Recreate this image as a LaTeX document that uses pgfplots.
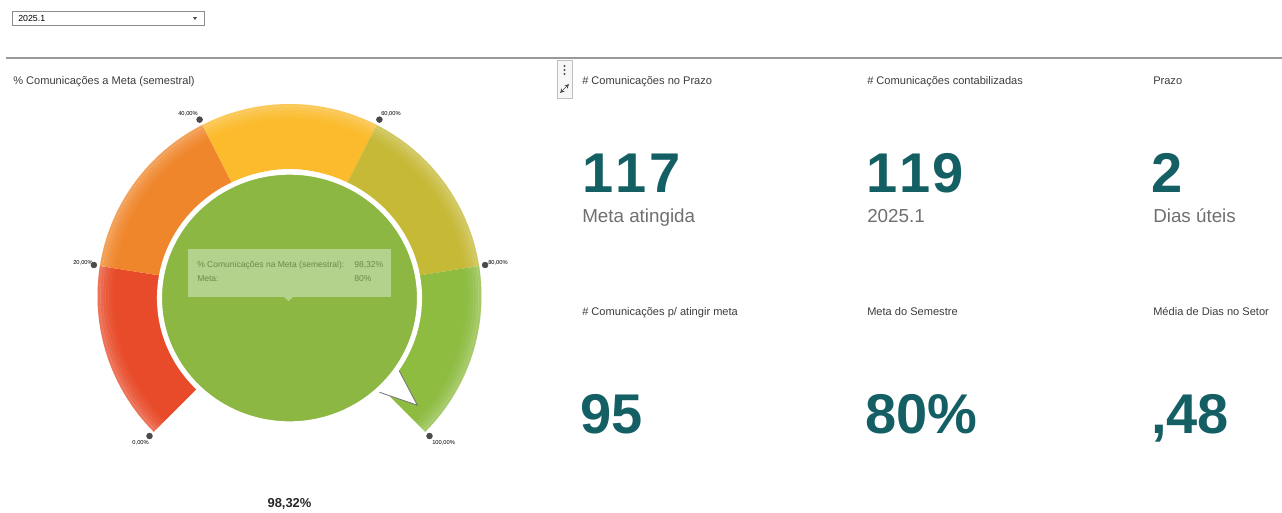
\documentclass[border=0pt]{standalone}
\usepackage{fontspec}
\setmainfont{Liberation Sans}
\usepackage{pgfplots}
\pgfplotsset{compat=1.18}
\definecolor{gRed}{HTML}{E84B2A}
\definecolor{gOrange}{HTML}{F0862B}
\definecolor{gYellow}{HTML}{FBBB2C}
\definecolor{gOlive}{HTML}{C6B936}
\definecolor{gGreen}{HTML}{8DBC40}
\definecolor{gCircle}{HTML}{8BB742}
\definecolor{tipFill}{HTML}{B3D38C}
\definecolor{tipText}{HTML}{6B8A4C}
\definecolor{kpiTeal}{HTML}{135F64}
\definecolor{subGray}{HTML}{6F6F6F}
\definecolor{lblGray}{HTML}{3C3C3C}
\definecolor{dotGray}{HTML}{4A4A4A}
% gauge band: start angle, end angle, colour (outer r = 192px, inner r = 127px)
\newcommand\band[3]{\fill[#3] ([shift={(#1:144pt)}]c) arc[start angle=#1,end angle=#2,radius=144pt] -- ([shift={(#2:95.25pt)}]c) arc[start angle=#2,end angle=#1,radius=95.25pt] -- cycle;}
\newcommand\rim[2]{\draw[white,opacity=#2,line width=2.3pt] ([shift={(225:#1)}]c) arc[start angle=225,end angle=-45,radius=#1];}
\newcommand\lbl[1]{\fontsize{8.3}{10}\selectfont\color{lblGray}#1}
\newcommand\kpinum[1]{\fontsize{42}{42}\selectfont\bfseries\color{kpiTeal}#1}
\newcommand\kpisub[1]{\fontsize{14.1}{16}\selectfont\color{subGray}#1}
\begin{document}
\begin{tikzpicture}
\begin{axis}[
  x=0.75pt, y=0.75pt,
  xmin=0, xmax=1282, ymin=0, ymax=512,
  y dir=reverse,
  hide axis, clip=false,
]
\coordinate (ll) at (axis cs:0,512);
\coordinate (ur) at (axis cs:1282,0);
\coordinate (c) at (axis cs:289.5,296);
\coordinate (c2) at (axis cs:289.5,298);
% --- top bar
\draw[black!45,line width=0.6pt] (axis cs:12,11) rectangle (axis cs:204,25);
\node[anchor=west,inner sep=0pt,font=\fontsize{6.6}{8}\selectfont] at (axis cs:18,18.5) {2025.1};
\fill[black!70] (axis cs:193,17) -- (axis cs:197,17) -- (axis cs:195,20) -- cycle;
\draw[black!40,line width=0.9pt] (axis cs:6,58) -- (axis cs:1282,58);
% --- icon box
\filldraw[fill=black!3,draw=black!25,line width=0.5pt] (axis cs:557,60) rectangle (axis cs:572,98);
\fill[black!70] (axis cs:564.5,66) circle[radius=0.9pt] (axis cs:564.5,70) circle[radius=0.9pt] (axis cs:564.5,74) circle[radius=0.9pt];
\draw[black!70,line width=0.5pt,<->,>=stealth] (axis cs:560,93) -- (axis cs:569,84);
% --- gauge title
\node[anchor=base west,inner sep=0pt] at (axis cs:13,84) {\lbl{\% Comunicações a Meta (semestral)}};
% --- gauge bands (0-20-40-60-80-100 %)
\band{225}{171}{gRed}
\band{171}{117}{gOrange}
\band{117}{63}{gYellow}
\band{63}{9}{gOlive}
\band{9}{-45}{gGreen}
\rim{142.9pt}{0.22}
\rim{140.9pt}{0.17}
\rim{138.9pt}{0.12}
\rim{136.9pt}{0.08}
\rim{134.9pt}{0.05}
\rim{132.9pt}{0.025}
% --- needle (98,32 %)
\filldraw[fill=white,draw=black!55,line width=0.6pt] ([shift={(-50:90pt)}]c) -- ([shift={(-40.5:126pt)}]c) -- ([shift={(-31:90pt)}]c) -- cycle;
% --- inner circle
\filldraw[fill=gCircle,draw=white,line width=3.8pt] (c2) ellipse[x radius=97.5pt, y radius=94.4pt];
% --- tooltip
\fill[tipFill] (axis cs:188,249) rectangle (axis cs:391,297);
\fill[tipFill] (axis cs:284,297) -- (axis cs:293,297) -- (axis cs:288.5,301) -- cycle;
\node[anchor=base west,inner sep=0pt,font=\fontsize{6.4}{8}\selectfont,text=tipText] at (axis cs:197,267) {\% Comunicações na Meta (semestral):};
\node[anchor=base west,inner sep=0pt,font=\fontsize{6.4}{8}\selectfont,text=tipText] at (axis cs:354,267) {98,32\%};
\node[anchor=base west,inner sep=0pt,font=\fontsize{6.4}{8}\selectfont,text=tipText] at (axis cs:197,281) {Meta:};
\node[anchor=base west,inner sep=0pt,font=\fontsize{6.4}{8}\selectfont,text=tipText] at (axis cs:354,281) {80\%};
% --- threshold dots
\addplot[only marks, mark=*, mark size=2.2pt, color=dotGray] coordinates {
  (149.5,436) (93.9,265) (199.6,119.6) (379.4,119.6) (485.1,265) (429.5,436)
};
\node[anchor=north east,inner sep=0pt,font=\fontsize{4.3}{5}\selectfont] at (axis cs:149,440) {0,00\%};
\node[anchor=south east,inner sep=0pt,font=\fontsize{4.3}{5}\selectfont] at (axis cs:93,265) {20,00\%};
\node[anchor=south east,inner sep=0pt,font=\fontsize{4.3}{5}\selectfont] at (axis cs:198,116) {40,00\%};
\node[anchor=south west,inner sep=0pt,font=\fontsize{4.3}{5}\selectfont] at (axis cs:381,116) {60,00\%};
\node[anchor=south west,inner sep=0pt,font=\fontsize{4.3}{5}\selectfont] at (axis cs:488,265) {80,00\%};
\node[anchor=north west,inner sep=0pt,font=\fontsize{4.3}{5}\selectfont] at (axis cs:432,440) {100,00\%};
\node[anchor=base,inner sep=0pt,font=\fontsize{9.7}{11}\selectfont\bfseries,text=black!85] at (axis cs:289.5,507) {98,32\%};
% --- KPI cards, row 1
\node[anchor=base west,inner sep=0pt] at (axis cs:582,84) {\lbl{\# Comunicações no Prazo}};
\node[anchor=base west,inner sep=0pt] at (axis cs:867,84) {\lbl{\# Comunicações contabilizadas}};
\node[anchor=base west,inner sep=0pt] at (axis cs:1153,84) {\lbl{Prazo}};
\node[anchor=base west,inner sep=0pt] at (axis cs:582,192) {\kpinum{1\kern1.8pt1\kern1.8pt7}};
\node[anchor=base west,inner sep=0pt] at (axis cs:866,192) {\kpinum{1\kern1.6pt1\kern1.6pt9}};
\node[anchor=base west,inner sep=0pt] at (axis cs:1151,192) {\kpinum{2}};
\node[anchor=base west,inner sep=0pt] at (axis cs:582,222) {\kpisub{Meta atingida}};
\node[anchor=base west,inner sep=0pt] at (axis cs:867,222) {\kpisub{2025.1}};
\node[anchor=base west,inner sep=0pt] at (axis cs:1153,222) {\kpisub{Dias úteis}};
% --- KPI cards, row 2
\node[anchor=base west,inner sep=0pt] at (axis cs:582,315) {\lbl{\# Comunicações p/ atingir meta}};
\node[anchor=base west,inner sep=0pt] at (axis cs:867,315) {\lbl{Meta do Semestre}};
\node[anchor=base west,inner sep=0pt] at (axis cs:1153,315) {\lbl{Média de Dias no Setor}};
\node[anchor=base west,inner sep=0pt] at (axis cs:580,433) {\kpinum{95}};
\node[anchor=base west,inner sep=0pt] at (axis cs:865,433) {\kpinum{80\%}};
\node[anchor=base west,inner sep=0pt] at (axis cs:1151,433) {\kpinum{,48}};
\end{axis}
\pgfresetboundingbox
\path (ll) rectangle (ur);
\end{tikzpicture}
\end{document}
